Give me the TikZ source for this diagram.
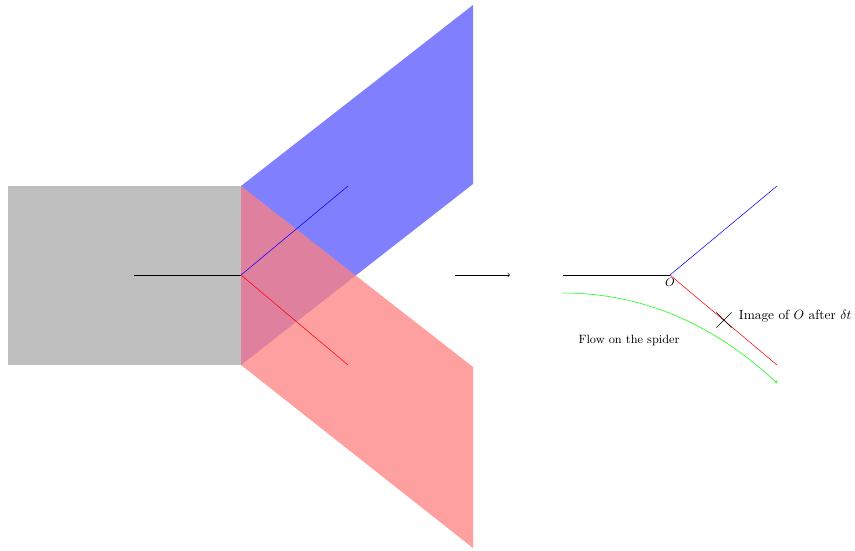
\documentclass[tikz,border=0pt]{standalone}
\usetikzlibrary{shapes.misc,positioning}
\begin{document}
\begin{tikzpicture}[x=0.75pt,y=-0.75pt,
  lbl/.style={font=\small,inner sep=2pt},
  biglbl/.style={font=\normalsize,inner sep=2pt},
  crossmark/.style={cross out,draw=black,thin,minimum size=11pt,inner sep=0pt}]
\useasboundingbox (0,0) rectangle (855,550);
% left picture
\fill[lightgray] (8,186) rectangle (241,365);
\fill[blue!50] (241,186) -- (473,5) -- (473,184) -- (241,365) -- cycle;
\fill[red!50,opacity=0.75] (241,186) -- (473,367) -- (473,548) -- (241,365) -- cycle;
\coordinate (lA) at (134,275);
\coordinate (lO) at (241,275);
\coordinate (lB) at (348,186);
\coordinate (lR) at (348,365);
\draw (lA) -- (lO);
\draw[blue] (lO) -- (lB);
\draw[red] (lO) -- (lR);
% middle arrow
\coordinate (m1) at (455,275);
\coordinate (m2) at (510,275);
\draw[->] (m1) -- (m2);
% right picture
\coordinate (rA) at (563,275);
\coordinate (rO) at (670,275);
\coordinate (rB) at (777,186);
\coordinate (rR) at (777,365);
\draw (rA) -- (rO);
\draw[blue] (rO) -- (rB);
\draw[red] (rO) -- (rR);
\node[lbl,below,inner sep=2pt] (Olbl) at (rO) {$O$};
\node[crossmark] (X) at (724,320) {};
\node[biglbl,anchor=west] (Xlbl) at (736,316) {Image of $O$ after $\delta t$};
\coordinate (g1) at (563,293);
\coordinate (g2) at (777,383);
\draw[green,->] (g1) .. controls (650,293) and (720,330) .. (g2);
\node[lbl] (flow) at (629,340) {Flow on the spider};
\end{tikzpicture}
\end{document}
